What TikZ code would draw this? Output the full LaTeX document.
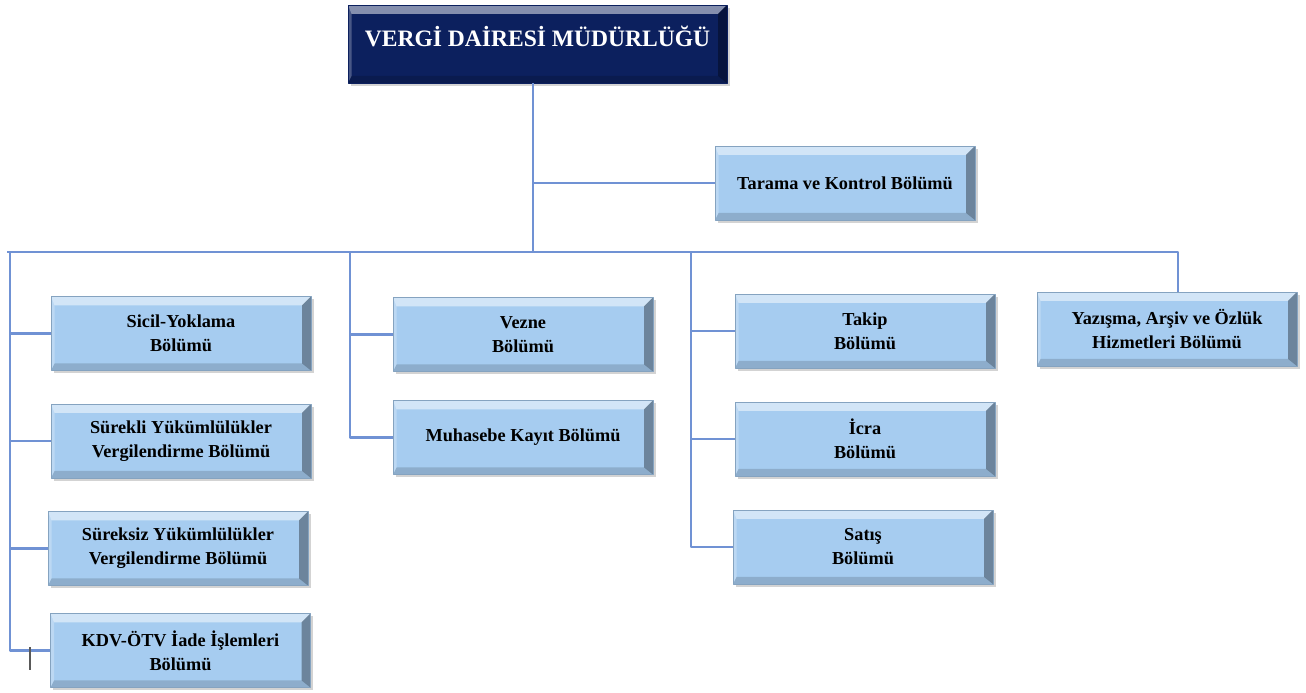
\documentclass[tikz,border=0pt]{standalone}
\usepackage{fontspec}
\setmainfont{Liberation Serif}
\usetikzlibrary{shadows}
\definecolor{kutu}{RGB}{166,204,240}
\definecolor{lacivert}{RGB}{12,32,94}
\definecolor{hatmavi}{RGB}{112,146,212}
\tikzset{
  bevel/.style={path picture={
    \fill[white,opacity=.5] (path picture bounding box.north west) -- (path picture bounding box.north east) -- ([shift={(-5pt,-5pt)}]path picture bounding box.north east) -- ([shift={(2pt,-5pt)}]path picture bounding box.north west) -- cycle;
    \fill[white,opacity=.25] (path picture bounding box.north west) -- ([shift={(2pt,-5pt)}]path picture bounding box.north west) -- ([shift={(2pt,4pt)}]path picture bounding box.south west) -- (path picture bounding box.south west) -- cycle;
    \fill[black,opacity=.35] (path picture bounding box.north east) -- ([shift={(-5pt,-5pt)}]path picture bounding box.north east) -- ([shift={(-5pt,4pt)}]path picture bounding box.south east) -- (path picture bounding box.south east) -- cycle;
    \fill[black,opacity=.15] (path picture bounding box.south west) -- ([shift={(2pt,4pt)}]path picture bounding box.south west) -- ([shift={(-5pt,4pt)}]path picture bounding box.south east) -- (path picture bounding box.south east) -- cycle;
  }},
  bolum/.style={fill=kutu, draw=kutu!80!black, line width=0.3pt, minimum width=5.2cm, minimum height=1.48cm, align=center, inner sep=2pt, font=\bfseries\fontsize{10.4}{13.6}\selectfont, drop shadow={shadow xshift=1.5pt, shadow yshift=-1.5pt, opacity=.35}, bevel},
  mudurluk/.style={bolum, fill=lacivert, draw=lacivert, text=white, minimum width=7.58cm, minimum height=1.56cm, text depth=0.3cm, font=\bfseries\fontsize{13.4}{16}\selectfont},
  baglanti/.style={draw=hatmavi, line width=1.4pt}
}
\begin{document}
\begin{tikzpicture}[x=0.02cm, y=-0.02cm, line join=round]
	\useasboundingbox (0,0) rectangle (1306,693);
	\node[mudurluk] (mudur) at (537.5,44) {VERGİ DAİRESİ MÜDÜRLÜĞÜ};
	\node[bolum] (tarama) at (845,183) {Tarama ve Kontrol Bölümü};
	\node[bolum] (sicil) at (181,333.5) {Sicil-Yoklama\\Bölümü};
	\node[bolum] (surekli) at (181,441) {Sürekli Yükümlülükler\\Vergilendirme Bölümü};
	\node[bolum] (sureksiz) at (178,548.5) {Süreksiz Yükümlülükler\\Vergilendirme Bölümü};
	\node[bolum] (kdv) at (180.5,650.5) {KDV-ÖTV İade İşlemleri\\Bölümü};
	\node[bolum] (vezne) at (523,334.5) {Vezne\\Bölümü};
	\node[bolum] (muhasebe) at (523,437.5) {Muhasebe Kayıt Bölümü};
	\node[bolum] (takip) at (865,331) {Takip\\Bölümü};
	\node[bolum] (icra) at (865,439) {İcra\\Bölümü};
	\node[bolum] (satis) at (863,547) {Satış\\Bölümü};
	\node[bolum] (yazisma) at (1167,329) {Yazışma, Arşiv ve Özlük\\Hizmetleri Bölümü};
	\coordinate (ana) at (533,252);
	\coordinate (solbas) at (7,252);
	\coordinate (sol) at (10,252);
	\coordinate (orta) at (350,252);
	\coordinate (sag) at (691,252);
	\coordinate (sagbas) at (1178,252);
	\draw[baglanti] (mudur.south -| ana) -- (ana);
	\draw[baglanti] (ana |- tarama) -- (tarama.west);
	\draw[baglanti] (solbas) -- (sagbas) -- (sagbas |- yazisma.north);
	\draw[baglanti] (sol) |- (kdv.west);
	\foreach \n in {sicil,surekli,sureksiz} \draw[baglanti] (sol |- \n.west) -- (\n.west);
	\draw[baglanti] (orta) |- (muhasebe.west);
	\draw[baglanti] (orta |- vezne.west) -- (vezne.west);
	\draw[baglanti] (sag) |- (satis.west);
	\foreach \n in {takip,icra} \draw[baglanti] (sag |- \n.west) -- (\n.west);
	\draw[gray!70!black, line width=0.6pt] (30,647) -- (30,670);
\end{tikzpicture}
\end{document}
